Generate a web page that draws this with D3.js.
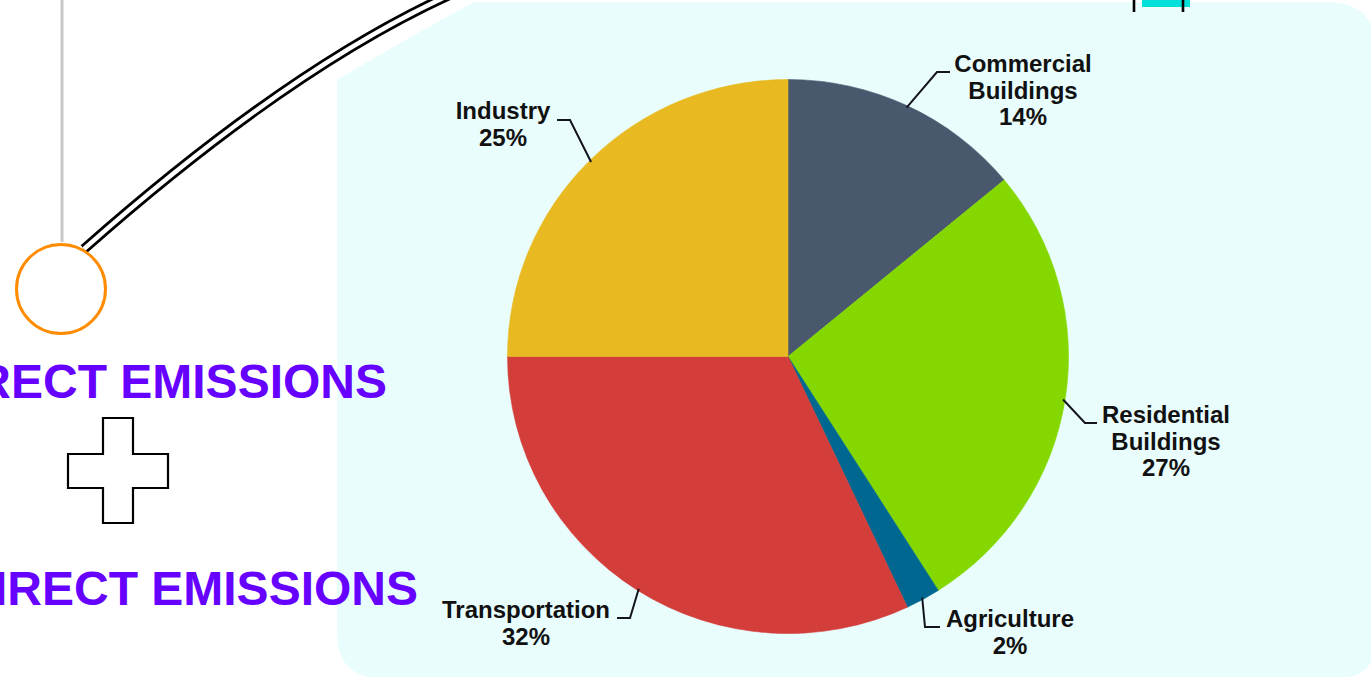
<!DOCTYPE html>
<html>
<head>
<meta charset="utf-8">
<script src="https://cdn.jsdelivr.net/npm/d3@7"></script>
<style>
  html, body { margin: 0; padding: 0; background: #ffffff; overflow: hidden; }
  svg { display: block; }
  text { font-family: "Liberation Sans", Arial, sans-serif; font-weight: bold; }
</style>
</head>
<body>
<svg id="chart" width="1371" height="677"></svg>
<script>
// U.S. greenhouse gas emissions by end-use sector (share of total, %)
const sectors = ["Commercial Buildings", "Residential Buildings", "Agriculture", "Transportation", "Industry"];
const shares  = [14, 27, 2, 32, 25];
const sliceColors = ["#4a586e", "#84d800", "#006890", "#d33d3a", "#e8b920"];

// Heading texts on the left side
const headings = ["DIRECT EMISSIONS", "INDIRECT EMISSIONS"];

const svg = d3.select("#chart");

// ---------- decorative background ----------
// Panel behind the pie, with a sloped top-left edge
const panel = d3.path();
panel.moveTo(337, 80);
panel.quadraticCurveTo(400, 42, 474, 2);
panel.lineTo(1326, 2);
panel.quadraticCurveTo(1376, 2, 1376, 50);
panel.lineTo(1376, 640);
panel.quadraticCurveTo(1376, 678, 1338, 678);
panel.lineTo(382, 678);
panel.quadraticCurveTo(337, 678, 337, 633);
panel.closePath();
svg.append("path").attr("d", panel.toString()).attr("fill", "#e9fdfd");

// Thin grey connector above the circle
svg.append("line")
  .attr("x1", 62).attr("x2", 62).attr("y1", 0).attr("y2", 242)
  .attr("stroke", "#c8c8c8").attr("stroke-width", 3);

// Double-line arc leaving the circle
const arcLine = d3.path();
arcLine.moveTo(84, 249);
arcLine.quadraticCurveTo(300, 58, 470, -14);
const arcD = arcLine.toString();
svg.append("path").attr("d", arcD).attr("fill", "none")
  .attr("stroke", "#000").attr("stroke-width", 10);
svg.append("path").attr("d", arcD).attr("fill", "none")
  .attr("stroke", "#fff").attr("stroke-width", 4.5);

// Orange node circle
svg.append("circle")
  .attr("cx", 61).attr("cy", 289).attr("r", 44.5)
  .attr("fill", "#fff").attr("stroke", "#ff8c00").attr("stroke-width", 3);

// Small cyan tab at the top
svg.append("rect").attr("x", 1142).attr("y", -2).attr("width", 48).attr("height", 9)
  .attr("fill", "#00e0d8");
[1134, 1183].forEach(x => {
  svg.append("rect").attr("x", x - 1.3).attr("y", -2).attr("width", 2.6).attr("height", 14)
    .attr("fill", "#000");
});

// Headings
svg.append("text").attr("x", 387).attr("y", 398)
  .attr("text-anchor", "end").attr("font-size", 48).attr("fill", "#6600ff")
  .text(headings[0]);
svg.append("text").attr("x", 418).attr("y", 605)
  .attr("text-anchor", "end").attr("font-size", 48).attr("fill", "#6600ff")
  .text(headings[1]);

// Plus sign outline between the headings
const plus = d3.path();
plus.moveTo(103, 418); plus.lineTo(133, 418); plus.lineTo(133, 454);
plus.lineTo(168, 454); plus.lineTo(168, 488); plus.lineTo(133, 488);
plus.lineTo(133, 523); plus.lineTo(103, 523); plus.lineTo(103, 488);
plus.lineTo(68, 488); plus.lineTo(68, 454); plus.lineTo(103, 454);
plus.closePath();
svg.append("path").attr("d", plus.toString())
  .attr("fill", "#fff").attr("stroke", "#000").attr("stroke-width", 2.2);

// ---------- pie ----------
// The pie is drawn slightly wider than tall
const cx = 788, cy = 356.5, R = 280.5, squash = 277 / 280.5;
const data = sectors.map((s, i) => ({ name: s, value: shares[i], color: sliceColors[i] }));

const pie = d3.pie().value(d => d.value).sort(null).startAngle(0).endAngle(2 * Math.PI);
const arcs = pie(data);
const arcGen = d3.arc().innerRadius(0).outerRadius(R);

const g = svg.append("g").attr("transform", `translate(${cx},${cy}) scale(1,${squash})`);
g.selectAll("path.slice").data(arcs).enter().append("path")
  .attr("class", "slice")
  .attr("d", arcGen)
  .attr("fill", d => d.data.color)
  .attr("stroke", d => d.data.color).attr("stroke-width", 0.6);

// Label layout: elbow point, end of the horizontal tick, text centre and first baseline
const labelLayout = {
  "Commercial Buildings":  { elbow: [937, 72],  end: [950, 72],  tx: 1023, ty: 72,  lines: ["Commercial", "Buildings"] },
  "Residential Buildings": { elbow: [1085, 423], end: [1097, 423], tx: 1166, ty: 423, lines: ["Residential", "Buildings"] },
  "Agriculture":           { elbow: [925, 627], end: [940, 627], tx: 1010, ty: 627, lines: ["Agriculture"] },
  "Transportation":        { elbow: [630, 618], end: [617, 618], tx: 526,  ty: 618, lines: ["Transportation"] },
  "Industry":              { elbow: [570, 120], end: [557, 120], tx: 503,  ty: 119, lines: ["Industry"] }
};

const lineH = 26.5;
arcs.forEach(a => {
  const L = labelLayout[a.data.name];
  const mid = (a.startAngle + a.endAngle) / 2;
  const sx = cx + Math.sin(mid) * (R - 2);
  const sy = cy - Math.cos(mid) * (R - 2) * squash;
  svg.append("path")
    .attr("d", `M${sx},${sy}L${L.elbow[0]},${L.elbow[1]}L${L.end[0]},${L.end[1]}`)
    .attr("fill", "none").attr("stroke", "#14141e").attr("stroke-width", 2);

  const t = svg.append("text")
    .attr("text-anchor", "middle").attr("font-size", 24).attr("fill", "#111")
    .attr("x", L.tx).attr("y", L.ty);
  const allLines = L.lines.concat([d3.format(".0f")(a.data.value) + "%"]);
  allLines.forEach((ln, i) => {
    t.append("tspan").attr("x", L.tx).attr("y", L.ty + i * lineH).text(ln);
  });
});
</script>
</body>
</html>
